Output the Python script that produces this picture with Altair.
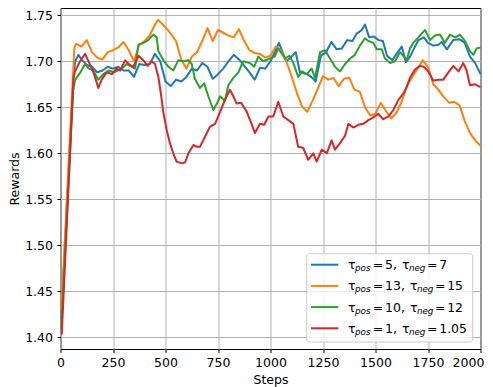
import altair as alt
import pandas as pd

# ---------------- data ----------------
steps_blue = [4, 62, 70, 85, 100, 125, 150, 175, 200, 225, 250, 275, 300, 325, 350, 375, 400, 425, 450, 475,
              500, 525, 550, 575, 600, 625, 650, 675, 700, 725, 750, 775, 800, 825, 850, 875, 900, 925, 950, 975, 1000,
              1025, 1040, 1075, 1100, 1120, 1140, 1175, 1200, 1215, 1240, 1265, 1290, 1315, 1340, 1365, 1390, 1410,
              1435, 1450, 1470, 1490, 1515, 1535, 1555, 1580, 1600, 1625, 1645, 1665, 1690, 1705, 1730, 1750, 1775,
              1800, 1815, 1840, 1870, 1900, 1925, 1950, 1975, 2000]
vals_blue = [1.420, 1.685, 1.700, 1.707, 1.702, 1.696, 1.694, 1.688, 1.690, 1.694, 1.692, 1.694, 1.690, 1.690, 1.683,
             1.697, 1.696, 1.697, 1.708, 1.700,
             1.678, 1.673, 1.680, 1.678, 1.683, 1.692, 1.690, 1.698, 1.694, 1.681, 1.686, 1.692, 1.700, 1.707, 1.702,
             1.695, 1.688, 1.680, 1.693, 1.692, 1.700,
             1.712, 1.720, 1.700, 1.705, 1.710, 1.688, 1.686, 1.682, 1.678, 1.706, 1.710, 1.721, 1.713, 1.714, 1.723,
             1.722, 1.730, 1.734, 1.740, 1.726, 1.727, 1.723, 1.722, 1.706, 1.701, 1.708, 1.716, 1.699, 1.705, 1.717,
             1.723, 1.726, 1.720, 1.717, 1.718, 1.721, 1.713, 1.723, 1.724, 1.720, 1.705, 1.698, 1.686]

steps_orange = [4, 66, 75, 100, 125, 150, 175, 200, 225, 250, 275, 300, 325, 350, 375, 400, 425, 450, 465,
                500, 525, 550, 575, 600, 625, 650, 675, 700, 725, 750, 775, 800, 825, 850, 875, 900, 925, 950, 975,
                1000, 1025, 1050, 1075, 1100, 1125, 1150, 1175, 1200, 1225, 1250, 1275, 1300, 1325, 1350, 1375, 1400,
                1425, 1450, 1475, 1500, 1525, 1550, 1575, 1600, 1625, 1650, 1675, 1700, 1725, 1750, 1775, 1800, 1825,
                1850, 1875, 1900, 1925, 1950, 1975, 2000]
vals_orange = [1.430, 1.715, 1.719, 1.716, 1.723, 1.710, 1.704, 1.702, 1.710, 1.712, 1.715, 1.721, 1.712, 1.700,
               1.718, 1.722, 1.728, 1.740, 1.745,
               1.737, 1.730, 1.722, 1.702, 1.692, 1.705, 1.710, 1.722, 1.736, 1.722, 1.734, 1.731, 1.728, 1.726,
               1.735, 1.722, 1.712, 1.709, 1.708, 1.704, 1.706,
               1.716, 1.712, 1.700, 1.684, 1.666, 1.651, 1.645, 1.657, 1.670, 1.684,
               1.680, 1.682, 1.673, 1.681, 1.682, 1.669, 1.667, 1.650, 1.641, 1.643,
               1.655, 1.646, 1.638, 1.644, 1.656, 1.674, 1.683, 1.692, 1.701, 1.694,
               1.675, 1.669, 1.661, 1.655, 1.656, 1.652, 1.635, 1.622, 1.614, 1.608]

steps_green = [4, 60, 70, 95, 117, 135, 156, 180, 204, 228, 255, 291, 315, 340, 355, 371, 395, 418, 442, 458,
               466, 490, 514, 537, 561, 585, 609, 625, 640, 664, 684, 704, 728, 745, 760, 783, 799, 823, 847, 870,
               902, 922, 942, 966, 998, 1020, 1037, 1069, 1090, 1109, 1132, 1150, 1172, 1196, 1212, 1236, 1260, 1283,
               1307, 1331, 1355, 1379, 1402, 1426, 1450, 1466, 1490, 1506, 1530, 1545, 1569, 1593, 1617, 1635, 1650,
               1664, 1680, 1704, 1736, 1760, 1783, 1807, 1830, 1855, 1880, 1902, 1926, 1950, 1966, 1982, 2000]
vals_green = [1.410, 1.668, 1.680, 1.688, 1.697, 1.692, 1.690, 1.680, 1.686, 1.690,
              1.688, 1.692, 1.697, 1.694, 1.692, 1.718, 1.720, 1.723, 1.729, 1.726,
              1.711, 1.701, 1.694, 1.690, 1.701, 1.700, 1.701, 1.697, 1.681, 1.671,
              1.676, 1.662, 1.647, 1.654, 1.662, 1.657, 1.674, 1.682, 1.688, 1.700,
              1.698, 1.694, 1.705, 1.700, 1.703, 1.705, 1.714, 1.703, 1.706, 1.698,
              1.683, 1.689, 1.686, 1.692, 1.682, 1.710, 1.712, 1.703, 1.694, 1.689,
              1.697, 1.703, 1.707, 1.717, 1.725, 1.722, 1.720, 1.713, 1.713, 1.703,
              1.698, 1.700, 1.710, 1.705, 1.702, 1.714, 1.720, 1.726, 1.734, 1.723,
              1.728, 1.729, 1.720, 1.729, 1.726, 1.729, 1.722, 1.711, 1.707, 1.714, 1.715]

steps_red = [6, 62, 69, 93, 117, 133, 150, 164, 180, 196, 220, 245, 267, 285, 307, 330, 347, 371, 395, 415,
             434, 450, 466, 478, 490, 506, 521, 537, 553, 577, 593, 609, 633, 650, 664, 688, 712, 736, 760, 783,
             807, 823, 839, 860, 887, 910, 926, 950, 970, 990, 1013, 1037, 1061, 1085, 1109, 1132, 1155, 1180, 1204,
             1220, 1244, 1268, 1291, 1307, 1331, 1355, 1371, 1394, 1418, 1442, 1466, 1490, 1513, 1537, 1561, 1585,
             1609, 1633, 1649, 1664, 1688, 1712, 1730, 1751, 1775, 1800, 1823, 1847, 1871, 1895, 1918, 1934, 1950,
             1974, 2000]
vals_red = [1.403, 1.683, 1.689, 1.700, 1.708, 1.700, 1.692, 1.683, 1.671, 1.680,
            1.688, 1.686, 1.692, 1.690, 1.701, 1.696, 1.694, 1.706, 1.701, 1.695,
            1.700, 1.697, 1.683, 1.665, 1.644, 1.625, 1.611, 1.600, 1.591, 1.589,
            1.590, 1.600, 1.609, 1.607, 1.607, 1.618, 1.629, 1.632, 1.645, 1.658,
            1.669, 1.662, 1.654, 1.655, 1.645, 1.632, 1.622, 1.632, 1.631, 1.640,
            1.640, 1.656, 1.640, 1.636, 1.632, 1.607, 1.606, 1.593, 1.600, 1.591,
            1.604, 1.600, 1.614, 1.604, 1.611, 1.619, 1.632, 1.628, 1.631, 1.632,
            1.636, 1.639, 1.643, 1.637, 1.640, 1.647, 1.658, 1.665, 1.672, 1.682,
            1.691, 1.695, 1.694, 1.689, 1.679, 1.680, 1.680, 1.688, 1.695, 1.689,
            1.698, 1.690, 1.674, 1.675, 1.672]

series_colors = ["#1f77b4", "#ff7f0e", "#2ca02c", "#d62728"]
tau_pos = ["5", "13", "10", "1"]
tau_neg = ["7", "15", "12", "1.05"]

x_ticks = [0, 250, 500, 750, 1000, 1250, 1500, 1750, 2000]
y_ticks = [1.40, 1.45, 1.50, 1.55, 1.60, 1.65, 1.70, 1.75]

# ---------------- layout ----------------
PLOT_W, PLOT_H = 420, 341
X_DOMAIN = [0, 2000]
Y_DOMAIN = [1.3873, 1.7579]
FONT = "DejaVu Sans"
FS = 12.5

xs = alt.Scale(domain=X_DOMAIN, nice=False, zero=False)
ys = alt.Scale(domain=Y_DOMAIN, nice=False, zero=False)

x_axis = alt.Axis(values=x_ticks, format="d", title="Steps", grid=True, labelPadding=3.5, titlePadding=5,
                  labelFlush=False, labelOverlap=False,
                  labelOffset={"condition": {"test": "datum.value == 2000", "value": -12.5}, "value": 0})
y_axis = alt.Axis(values=y_ticks, format=".2f", title="Rewards", grid=True, labelPadding=4.5,
                  titlePadding=3.5, labelOverlap=False)

all_series = [(steps_blue, vals_blue), (steps_orange, vals_orange),
              (steps_green, vals_green), (steps_red, vals_red)]

layers = []
for i, (s, v) in enumerate(all_series):
    df = pd.DataFrame({"step": s, "reward": v})
    layers.append(
        alt.Chart(df).mark_line(color=series_colors[i], strokeWidth=2, strokeJoin="round").encode(
            x=alt.X("step:Q", scale=xs, axis=x_axis),
            y=alt.Y("reward:Q", scale=ys, axis=y_axis),
        )
    )

# ---------------- legend (manual, to allow subscripts) ----------------
OX, OY = 60.5, 8.0            # page position of plot origin
box = dict(x=306.7 - OX, x2=472.7 - OX, y=253.7 - OY, y2=342.0 - OY)
ROW0, ROWH = 264.7 - OY, 21.2
BASE_OFF = 4.5
X_TAU1 = 348.0 - OX


def tw(s):
    w = {",": 0.318, ".": 0.318}
    return sum(w.get(c, 0.636) for c in s) * FS


main_rows, sub_rows, rule_rows = [], [], []
for i in range(4):
    cy = ROW0 + i * ROWH
    by = cy + BASE_OFF
    x_sub1 = X_TAU1 + 7
    x_eq1 = X_TAU1 + 24.75
    x_val1 = X_TAU1 + 37
    x_tau2 = x_val1 + tw(tau_pos[i] + ",") + 5
    x_sub2 = x_tau2 + 7
    x_eq2 = x_tau2 + 25
    x_val2 = x_eq2 + 12.25
    main_rows += [("τ", X_TAU1, by), ("=", x_eq1, by), (tau_pos[i] + ",", x_val1, by),
                  ("τ", x_tau2, by), ("=", x_eq2, by), (tau_neg[i], x_val2, by)]
    sub_rows += [("pos", x_sub1, by + 2), ("neg", x_sub2, by + 2)]
    rule_rows.append((series_colors[i], cy))

df_main = pd.DataFrame(main_rows, columns=["t", "px", "py"])
df_sub = pd.DataFrame(sub_rows, columns=["t", "px", "py"])
df_rule = pd.DataFrame(rule_rows, columns=["c", "py"])

legend_box = alt.Chart(pd.DataFrame({"k": [0]})).mark_rect(
    fill="white", fillOpacity=0.8, stroke="#cccccc", strokeWidth=1, cornerRadius=3
).encode(x=alt.value(box["x"]), x2=alt.value(box["x2"]), y=alt.value(box["y"]), y2=alt.value(box["y2"]))

legend_lines = alt.Chart(df_rule).mark_rule(strokeWidth=2).encode(
    x=alt.value(311.0 - OX), x2=alt.value(338.3 - OX),
    y=alt.Y("py:Q", scale=None, axis=None),
    color=alt.Color("c:N", scale=None, legend=None),
)

legend_main = alt.Chart(df_main).mark_text(
    align="left", baseline="alphabetic", font=FONT, fontSize=FS, color="black"
).encode(x=alt.X("px:Q", scale=None, axis=None), y=alt.Y("py:Q", scale=None, axis=None), text="t:N")

legend_sub = alt.Chart(df_sub).mark_text(
    align="left", baseline="alphabetic", font=FONT, fontSize=FS * 0.7, fontStyle="italic", color="black"
).encode(x=alt.X("px:Q", scale=None, axis=None), y=alt.Y("py:Q", scale=None, axis=None), text="t:N")

chart = alt.layer(*layers, legend_box, legend_lines, legend_main, legend_sub).properties(
    width=PLOT_W, height=PLOT_H,
    autosize=alt.AutoSizeParams(type="none"),
    padding={"left": 52.5, "top": 0, "right": 4, "bottom": 38},
    background="white",
).configure_view(stroke="black", strokeWidth=1).configure_axis(
    labelFont=FONT, titleFont=FONT, labelFontSize=FS, titleFontSize=FS, titleFontWeight="normal",
    labelColor="black", titleColor="black", tickColor="black", tickSize=3.5, tickWidth=1,
    domain=False, gridColor="#b0b0b0", gridWidth=1, gridOpacity=1,
)

chart.save("out.html", embed_options={"renderer": "svg", "actions": False})
